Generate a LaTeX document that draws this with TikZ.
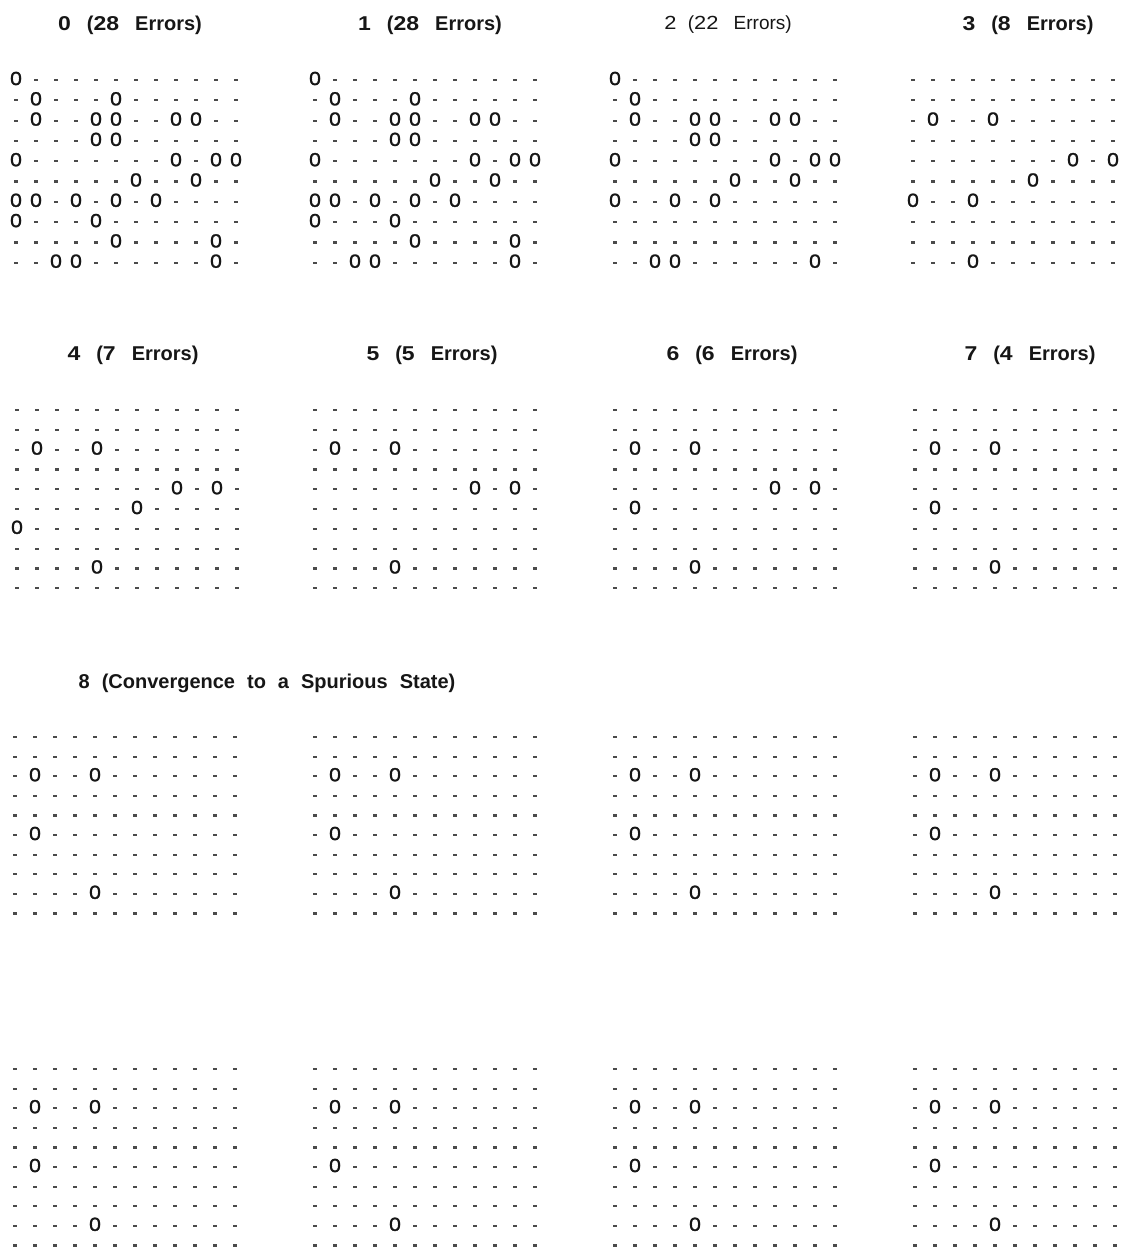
\documentclass[tikz,border=0pt]{standalone}
\usepackage{fontspec}
\setmainfont{Liberation Sans}
\newfontfamily\ofont[FakeBold=1.2]{Liberation Sans}
\definecolor{ink}{HTML}{161616}
\definecolor{dashc}{HTML}{4A4A4A}
\newcommand\gap{\hspace{0.6em}}
\newcommand\wgap{\hspace{0.8em}}
\newcommand\dg[1]{\scalebox{1.15}[1]{#1}}
\newcommand\hopgrid[4]{%
  \foreach \r in {0,...,9}{\foreach \c in {0,...,11}{%
    \fill[dashc] ({#2+\c*20-1.7},{#3+\r*\dy-1.1}) rectangle ({#2+\c*20+1.7},{#3+\r*\dy+1.1});}}
  \edef\plist{#4}%
  \foreach \c/\r in \plist{\node[onode] (#1-\c-\r) at ({#2+\c*20},{#3+\r*\dy-1.5}) {\scalebox{1.12}[1]{0}};}
}
\begin{document}
\begin{tikzpicture}[x=1pt,y=-1pt,
  title/.style={font=\fontsize{20}{20}\selectfont\bfseries, text=ink, inner sep=0pt, anchor=center},
  titlelight/.style={font=\fontsize{19}{19}\selectfont, text=ink, inner sep=0pt, anchor=center},
  onode/.style={font=\fontsize{19}{19}\selectfont\ofont, text=ink, fill=white, inner sep=0.3pt}]
\fill[white] (0,0) rectangle (1130,1253);
\useasboundingbox (0,0) rectangle (1130,1253);
% titles
\node[title] (t0) at (130,25) {\dg{0}\wgap(\dg{28}\wgap Errors)};
\node[title] (t1) at (430,25) {\dg{1}\wgap(\dg{28}\wgap Errors)};
\node[titlelight] (t2) at (728,25) {\dg{2}\gap(\dg{22}\wgap Errors)};
\node[title] (t3) at (1028,25) {\dg{3}\wgap(\dg{8}\wgap Errors)};
\node[title] (t4) at (133,355) {\dg{4}\wgap(\dg{7}\wgap Errors)};
\node[title] (t5) at (432,355) {\dg{5}\wgap(\dg{5}\wgap Errors)};
\node[title] (t6) at (732,355) {\dg{6}\wgap(\dg{6}\wgap Errors)};
\node[title] (t7) at (1030,355) {\dg{7}\wgap(\dg{4}\wgap Errors)};
\node[title] (t8) at (267,683) {8\gap(Convergence\gap to\gap a\gap Spurious\gap State)};
% section 1
\def\dy{20.3}
\def\pzero{0/0,1/1,5/1,1/2,4/2,5/2,8/2,9/2,4/3,5/3,0/4,8/4,10/4,11/4,6/5,9/5,0/6,1/6,3/6,5/6,7/6,0/7,4/7,5/8,10/8,2/9,3/9,10/9}
\hopgrid{g0}{16}{80}{\pzero}
\hopgrid{g1}{315}{80}{\pzero}
\hopgrid{g2}{615}{80}{0/0,1/1,1/2,4/2,5/2,8/2,9/2,4/3,5/3,0/4,8/4,10/4,11/4,6/5,9/5,0/6,3/6,5/6,2/9,3/9,10/9}
\hopgrid{g3}{913}{80}{1/2,4/2,8/4,10/4,6/5,0/6,3/6,3/9}
% section 2
\def\dy{19.8}
\hopgrid{g4}{17}{410}{1/2,4/2,8/4,10/4,6/5,0/6,4/8}
\hopgrid{g5}{315}{410}{1/2,4/2,8/4,10/4,4/8}
\hopgrid{g6}{615}{410}{1/2,4/2,8/4,10/4,1/5,4/8}
\hopgrid{g7}{915}{410}{1/2,4/2,1/5,4/8}
% section 3
\def\dy{19.6}
\def\pspur{1/2,4/2,1/5,4/8}
\hopgrid{s1}{15}{737}{\pspur}
\hopgrid{s2}{315}{737}{\pspur}
\hopgrid{s3}{615}{737}{\pspur}
\hopgrid{s4}{915}{737}{\pspur}
% section 4
\hopgrid{s5}{15}{1069}{\pspur}
\hopgrid{s6}{315}{1069}{\pspur}
\hopgrid{s7}{615}{1069}{\pspur}
\hopgrid{s8}{915}{1069}{\pspur}
\end{tikzpicture}
\end{document}
